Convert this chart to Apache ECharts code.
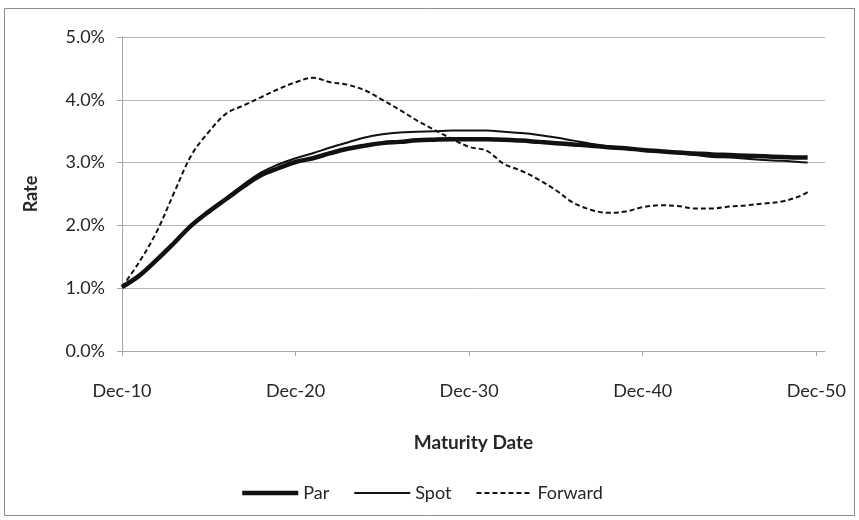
<!DOCTYPE html>
<html>
<head>
<meta charset="utf-8">
<script src="https://cdn.jsdelivr.net/npm/echarts@6/dist/echarts.min.js"></script>
<style>
  html, body { margin: 0; padding: 0; background: #ffffff; }
  #chart { width: 859px; height: 520px; }
</style>
</head>
<body>
<div id="chart"></div>
<script>
// Years to maturity, measured from Dec-2010
const maturities = [0, 1, 2, 3, 4, 5, 6, 7, 8, 9, 10, 11, 12, 13, 14, 15, 16, 17, 18, 19,
  20, 21, 22, 23, 24, 25, 26, 27, 28, 29, 30, 31, 32, 33, 34, 35, 36, 37, 38, 39, 39.5];

// Rates in percent
const parRates = [1.02, 1.20, 1.45, 1.72, 2.00, 2.22, 2.42, 2.62, 2.80, 2.91, 3.01, 3.07, 3.15, 3.22, 3.27,
  3.31, 3.33, 3.355, 3.365, 3.37, 3.37, 3.37, 3.365, 3.35, 3.33, 3.31, 3.29, 3.27, 3.245, 3.23,
  3.20, 3.18, 3.16, 3.145, 3.13, 3.12, 3.11, 3.10, 3.09, 3.08, 3.08];

const spotRates = [1.02, 1.20, 1.45, 1.72, 2.00, 2.22, 2.43, 2.65, 2.84, 2.97, 3.07, 3.15, 3.24, 3.32, 3.40,
  3.45, 3.48, 3.49, 3.50, 3.51, 3.51, 3.51, 3.49, 3.47, 3.44, 3.40, 3.35, 3.30, 3.26, 3.23,
  3.20, 3.18, 3.15, 3.12, 3.09, 3.08, 3.06, 3.04, 3.03, 3.01, 3.00];

const forwardRates = [1.02, 1.42, 1.90, 2.52, 3.12, 3.49, 3.78, 3.91, 4.04, 4.17, 4.28, 4.35, 4.28, 4.24, 4.15,
  4.00, 3.84, 3.67, 3.52, 3.38, 3.25, 3.19, 2.98, 2.87, 2.73, 2.56, 2.36, 2.25, 2.20, 2.22,
  2.29, 2.32, 2.31, 2.27, 2.27, 2.30, 2.32, 2.35, 2.38, 2.46, 2.53];

const xTickValues = [0, 10, 20, 30, 40];
const xTickLabels = ['Dec-10', 'Dec-20', 'Dec-30', 'Dec-40', 'Dec-50'];

const FONT = 'Lato, "Open Sans", sans-serif';
const TEXT = '#262626';

function pairs(values) {
  return maturities.map((m, i) => [m, values[i]]);
}

const chart = echarts.init(document.getElementById('chart'), null, { renderer: 'canvas' });

chart.setOption({
  animation: false,
  backgroundColor: '#ffffff',
  textStyle: { fontFamily: FONT, color: TEXT },
  graphic: [{
    type: 'rect',
    shape: { x: 4.5, y: 8.5, width: 850, height: 507 },
    style: { fill: 'none', stroke: '#8c8c8c', lineWidth: 1 },
    silent: true,
    z: -10
  }],
  grid: { left: 122, right: 34, top: 37, bottom: 169 },
  xAxis: {
    type: 'value',
    min: 0,
    max: 40.5,
    name: 'Maturity Date',
    nameLocation: 'middle',
    nameGap: 82,
    nameTextStyle: { fontFamily: FONT, fontSize: 19, fontWeight: 'bold', color: TEXT },
    axisLine: { show: true, lineStyle: { color: '#a6a6a6', width: 1 } },
    axisTick: { show: true, length: 5, customValues: xTickValues, lineStyle: { color: '#a6a6a6' } },
    axisLabel: {
      customValues: xTickValues,
      margin: 31,
      fontFamily: FONT,
      fontSize: 18,
      color: TEXT,
      formatter: v => xTickLabels[xTickValues.indexOf(v)] || ''
    },
    splitLine: { show: false }
  },
  yAxis: {
    type: 'value',
    min: 0,
    max: 5,
    interval: 1,
    name: 'Rate',
    nameLocation: 'middle',
    nameRotate: 90,
    nameGap: 82,
    nameTextStyle: { fontFamily: FONT, fontSize: 18, fontWeight: 'bold', color: TEXT },
    axisLine: { show: true, lineStyle: { color: '#a6a6a6', width: 1 } },
    axisTick: { show: true, length: 5, lineStyle: { color: '#a6a6a6' } },
    axisLabel: {
      margin: 17,
      fontFamily: FONT,
      fontSize: 18,
      color: TEXT,
      formatter: v => v.toFixed(1) + '%'
    },
    splitLine: { show: true, lineStyle: { color: '#b4b4b4', width: 1 } }
  },
  legend: {
    left: 235,
    top: 479,
    itemWidth: 56,
    itemHeight: 14,
    itemGap: 24,
    textStyle: { fontFamily: FONT, fontSize: 18, color: TEXT },
    itemStyle: { opacity: 0 },
    lineStyle: { width: 'inherit', type: 'inherit' },
    data: ['Par', 'Spot', 'Forward']
  },
  series: [
    {
      name: 'Par',
      type: 'line',
      data: pairs(parRates),
      smooth: 0.4,
      symbol: 'none',
      lineStyle: { color: '#111111', width: 4.5 },
      itemStyle: { color: '#111111' },
      z: 3
    },
    {
      name: 'Spot',
      type: 'line',
      data: pairs(spotRates),
      smooth: 0.4,
      symbol: 'none',
      lineStyle: { color: '#111111', width: 2 },
      itemStyle: { color: '#111111' },
      z: 4
    },
    {
      name: 'Forward',
      type: 'line',
      data: pairs(forwardRates),
      smooth: 0.35,
      symbol: 'none',
      lineStyle: { color: '#111111', width: 2, type: [5, 3] },
      itemStyle: { color: '#111111' },
      z: 5
    }
  ]
});
</script>
</body>
</html>
